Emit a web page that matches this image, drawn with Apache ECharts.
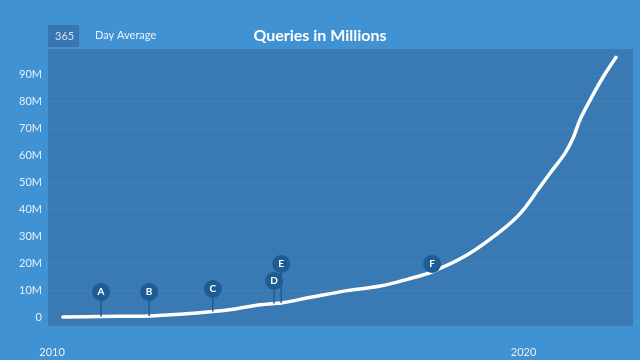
<!DOCTYPE html>
<html>
<head>
<meta charset="utf-8">
<script src="https://cdn.jsdelivr.net/npm/echarts@6/dist/echarts.min.js"></script>
<style>
html,body{margin:0;padding:0;background:#4192d3;}
#chart{width:640px;height:360px;}
</style>
</head>
<body>
<div id="chart"></div>
<script>
// Data
var years  = [2010.23, 2011.04, 2012.06, 2012.71, 2013.41, 2013.88, 2014.31, 2014.71, 2014.86, 2015.54, 2016.26, 2016.96, 2017.53, 2018.06, 2018.80, 2019.50, 2019.93, 2020.35, 2020.56, 2020.88, 2021.05, 2021.20, 2021.45, 2021.69, 2021.96];
var queries = [0, 0.2, 0.4, 1.0, 2.0, 3.0, 4.3, 5.0, 5.2, 7.5, 9.8, 11.5, 14.0, 16.8, 23.0, 31.7, 38.5, 48.4, 53.4, 60.9, 66.5, 73.5, 81.9, 89.3, 96.5];
var markerLetters = ['A', 'B', 'C', 'D', 'E', 'F'];
var markerYears   = [2011.04, 2012.06, 2013.41, 2014.71, 2014.86, 2018.06];
var markerHeights = [9.3, 9.3, 10.4, 13.4, 19.7, 19.7];
var markerBase    = [0.2, 0.4, 2.0, 5.0, 5.2, 16.8];
var yTicks = [0, 10, 20, 30, 40, 50, 60, 70, 80, 90];
var xTicks = [2010, 2020];

var lineData = years.map(function (y, i) { return [y, queries[i]]; });
var markerData = markerYears.map(function (y, i) { return [y, markerHeights[i], markerBase[i], markerLetters[i]]; });

var chart = echarts.init(document.getElementById('chart'));
var font = 'Lato, "Noto Sans", sans-serif';
chart.setOption({
  backgroundColor: '#4192d3',
  animation: false,
  title: {
    text: 'Queries in Millions',
    left: 'center',
    top: 23,
    textStyle: { color: '#ffffff', fontSize: 16, fontWeight: 'bold', fontFamily: font }
  },
  graphic: [
    { type: 'rect', left: 48, top: 25, shape: { width: 31, height: 22 }, style: { fill: '#3776b0' } },
    { type: 'text', left: 55, top: 31, style: { text: '365', fill: '#d7e6f4', font: '11px ' + font } },
    { type: 'text', left: 95, top: 30, style: { text: 'Day Average', fill: '#eaf2fa', font: '11px ' + font } }
  ],
  grid: {
    left: 48, right: 7, top: 49, bottom: 34,
    show: true, backgroundColor: '#3979b4', borderWidth: 0
  },
  xAxis: {
    type: 'value',
    min: 2009.915, max: 2022.32,
    axisLine: { show: false },
    axisTick: { show: false },
    splitLine: { show: false },
    axisLabel: {
      customValues: xTicks,
      color: '#e6f0f9', fontSize: 11, fontFamily: font, margin: 21,
      formatter: function (v) { return String(v); }
    }
  },
  yAxis: {
    type: 'value',
    min: -3.35, max: 99.6,
    axisLine: { show: false },
    axisTick: { show: false, customValues: yTicks },
    splitLine: { show: false },
    axisLabel: {
      customValues: yTicks,
      color: '#e6f0f9', fontSize: 11, fontFamily: font, margin: 6,
      formatter: function (v) { return v === 0 ? '0' : v + 'M'; }
    }
  },
  series: [
    {
      type: 'line',
      data: lineData,
      smooth: 0.35,
      showSymbol: false,
      lineStyle: { color: '#ffffff', width: 3.5, cap: 'round' },
      z: 3,
      markLine: {
        silent: true,
        symbol: 'none',
        label: { show: false },
        lineStyle: { color: 'rgba(255,255,255,0.05)', width: 1, type: 'solid' },
        data: yTicks.slice(1).map(function (v) { return { yAxis: v }; }),
        z: 1
      }
    },
    {
      type: 'custom',
      data: markerData,
      z: 4,
      renderItem: function (params, api) {
        var top = api.coord([api.value(0), api.value(1)]);
        var bot = api.coord([api.value(0), api.value(2)]);
        return {
          type: 'line',
          shape: { x1: top[0], y1: top[1], x2: bot[0], y2: bot[1] },
          style: { stroke: '#1f5c92', lineWidth: 1.5 }
        };
      }
    },
    {
      type: 'scatter',
      data: markerData,
      symbolSize: 18,
      z: 5,
      itemStyle: { color: '#1f5c92', opacity: 1 },
      label: {
        show: true,
        position: 'inside',
        formatter: function (p) { return p.data[3]; },
        color: '#ffffff', fontSize: 10, fontWeight: 'bold', fontFamily: font
      }
    }
  ]
});
</script>
</body>
</html>
